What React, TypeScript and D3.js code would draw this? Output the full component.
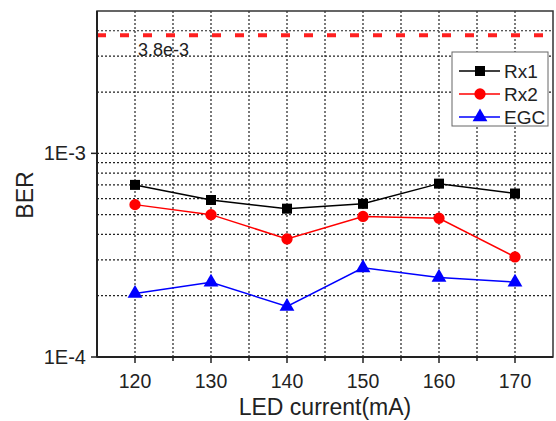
import React from "react";
import * as d3 from "d3";

// LED current (mA) on x, BER on log y
const currents = [120, 130, 140, 150, 160, 170];
const rx1 = [7.0e-4, 5.9e-4, 5.35e-4, 5.65e-4, 7.1e-4, 6.35e-4];
const rx2 = [5.6e-4, 5.0e-4, 3.8e-4, 4.9e-4, 4.8e-4, 3.1e-4];
const egc = [2.05e-4, 2.33e-4, 1.77e-4, 2.74e-4, 2.46e-4, 2.33e-4];
const threshold = 3.8e-3;
const thresholdLabel = "3.8e-3";
const yTickLabels = ["1E-4", "1E-3"];
const seriesNames = ["Rx1", "Rx2", "EGC"];

const W = 556;
const H = 421;
const margin = { left: 97, right: 3, top: 11, bottom: 64 };
const font = "'Liberation Sans', Arial, sans-serif";

const x = d3.scaleLinear().domain([115, 175]).range([margin.left, W - margin.right]);
const y = d3.scaleLog().domain([1e-4, 5e-3]).range([H - margin.bottom, margin.top]);

const series = [
  { name: seriesNames[0], values: rx1, color: "#000000", shape: d3.symbolSquare, size: 100 },
  { name: seriesNames[1], values: rx2, color: "#ff0000", shape: d3.symbolCircle, size: 100 },
  { name: seriesNames[2], values: egc, color: "#0000ff", shape: d3.symbolTriangle, size: 95 },
];

const App = () => {
  const x0 = x.range()[0];
  const x1 = x.range()[1];
  const yTop = y.range()[1];
  const yBot = y.range()[0];

  const xGrid = d3.range(120, 171, 5);
  const yGrid = y.ticks().filter(t => t > 1.0001e-4 && t < 4.999e-3);
  const yMajor = [1e-4, 1e-3];

  const line = d3
    .line<number>()
    .x((d, i) => x(currents[i]))
    .y(d => y(d));

  return (
    <svg
      width={W}
      height={H}
      style={{ position: "absolute", left: 0, top: 0, background: "#fff", fontFamily: font }}
    >
      {/* grid */}
      {xGrid.map(v => (
        <line key={"gx" + v} x1={x(v)} x2={x(v)} y1={yTop} y2={yBot}
          stroke="#222" strokeWidth={1.2} strokeDasharray="2,2" />
      ))}
      {yGrid.map(v => (
        <line key={"gy" + v} x1={x0} x2={x1} y1={y(v)} y2={y(v)}
          stroke="#222" strokeWidth={1.2} strokeDasharray="2,2" />
      ))}

      {/* threshold */}
      <line x1={x0} x2={x1} y1={y(threshold)} y2={y(threshold)}
        stroke="#ff2020" strokeWidth={4} strokeDasharray="9,14" />
      <text x={x(120) + 3} y={y(threshold) + 21} fontSize={18} fill="#222">{thresholdLabel}</text>

      {/* frame */}
      <rect x={x0} y={yTop} width={x1 - x0} height={yBot - yTop} fill="none" stroke="#333" strokeWidth={1.5} />
      <line x1={x0} x2={x0} y1={yTop} y2={yBot} stroke="#222" strokeWidth={2} />
      <line x1={x0} x2={x1} y1={yBot} y2={yBot} stroke="#222" strokeWidth={2} />

      {/* x ticks */}
      {xGrid.map(v => (
        <line key={"tx" + v} x1={x(v)} x2={x(v)} y1={yBot} y2={yBot + (v % 10 === 0 ? 6 : 4)}
          stroke="#222" strokeWidth={1.5} />
      ))}
      {currents.map(v => (
        <text key={"lx" + v} x={x(v)} y={yBot + 31} fontSize={19.5} textAnchor="middle" fill="#222">{v}</text>
      ))}

      {/* y ticks */}
      {yMajor.map((v, i) => (
        <g key={"ty" + v}>
          <line x1={x0 - 6} x2={x0} y1={y(v)} y2={y(v)} stroke="#222" strokeWidth={1.5} />
          <text x={x0 - 11} y={y(v)} dy="0.35em" fontSize={20} textAnchor="end" fill="#222">{yTickLabels[i]}</text>
        </g>
      ))}

      {/* axis titles */}
      <text x={325} y={415} fontSize={23} textAnchor="middle" fill="#222">LED current(mA)</text>
      <text transform={`translate(33,195) rotate(-90)`} fontSize={23} textAnchor="middle" fill="#222">BER</text>

      {/* series */}
      {series.map(s => (
        <g key={s.name}>
          <path d={line(s.values) || ""} fill="none" stroke={s.color} strokeWidth={1.5} />
          {s.values.map((v, i) => (
            <path key={i} transform={`translate(${x(currents[i])},${y(v)})`}
              d={d3.symbol().type(s.shape).size(s.size)() || ""} fill={s.color} />
          ))}
        </g>
      ))}

      {/* legend */}
      <g>
        <rect x={452} y={52} width={96} height={74} fill="#fff" stroke="#666" strokeWidth={1} />
        {series.map((s, i) => {
          const ly = 71 + i * 23;
          return (
            <g key={"lg" + s.name}>
              <line x1={459} x2={500} y1={ly} y2={ly} stroke={s.color} strokeWidth={1.5} />
              <path transform={`translate(480,${ly})`} d={d3.symbol().type(s.shape).size(s.size)() || ""} fill={s.color} />
              <text x={504} y={ly} dy="0.35em" fontSize={19} fill="#222">{s.name}</text>
            </g>
          );
        })}
      </g>
    </svg>
  );
};

export default App;
